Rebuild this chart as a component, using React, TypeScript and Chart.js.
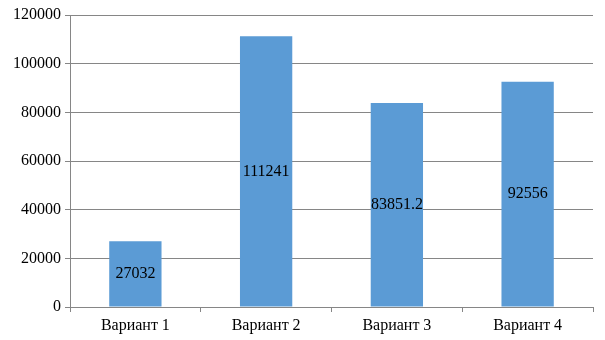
import React, { useEffect, useRef } from "react";
import { Chart, registerables } from "chart.js";

Chart.register(...registerables);

const categories = ["Вариант 1", "Вариант 2", "Вариант 3", "Вариант 4"];
const values = [27032, 111241, 83851.2, 92556];
const valueLabels = ["27032", "111241", "83851.2", "92556"];
const yTicks = [0, 20000, 40000, 60000, 80000, 100000, 120000];

const FONT = "'Liberation Serif', serif";
const GRID = "#868686";

const centerLabels = {
  id: "centerLabels",
  afterDatasetsDraw(chart: any) {
    const ctx = chart.ctx;
    const meta = chart.getDatasetMeta(0);
    ctx.save();
    ctx.font = `16px ${FONT}`;
    ctx.fillStyle = "#000000";
    ctx.textAlign = "center";
    ctx.textBaseline = "middle";
    meta.data.forEach((bar: any, i: number) => {
      const { x, y, base } = bar.getProps(["x", "y", "base"], true);
      ctx.fillText(valueLabels[i], x, (y + base) / 2);
    });
    ctx.restore();
  },
};

export default function App() {
  const ref = useRef<HTMLCanvasElement>(null);
  useEffect(() => {
    document.body.style.margin = "0";
    const chart = new Chart(ref.current!, {
      type: "bar",
      data: {
        labels: categories,
        datasets: [
          {
            data: values,
            backgroundColor: "#5B9BD5",
            borderWidth: 0,
            barPercentage: 0.8,
            categoryPercentage: 0.5,
          },
        ],
      },
      options: {
        responsive: false,
        animation: false,
        layout: { padding: { left: 0, right: 12, top: 15, bottom: 0 } },
        plugins: { legend: { display: false }, tooltip: { enabled: false } },
        scales: {
          x: {
            grid: {
              drawOnChartArea: false,
              drawTicks: true,
              tickLength: 5,
              color: GRID,
            },
            border: { color: GRID },
            ticks: { color: "#000", font: { family: FONT, size: 16 }, padding: 4 },
            afterFit: (s: any) => {
              s.height = 33;
            },
          },
          y: {
            min: 0,
            max: 120000,
            afterBuildTicks: (s: any) => {
              s.ticks = yTicks.map((v) => ({ value: v }));
            },
            grid: { color: GRID, tickLength: 5 },
            border: { color: GRID },
            ticks: {
              color: "#000",
              font: { family: FONT, size: 16 },
              padding: 4,
              callback: (v: any) => String(v),
            },
            afterFit: (s: any) => {
              s.width = 70;
            },
          },
        },
      },
      plugins: [centerLabels],
    });
    return () => chart.destroy();
  }, []);
  return <canvas ref={ref} width={605} height={340} style={{ display: "block" }} />;
}
